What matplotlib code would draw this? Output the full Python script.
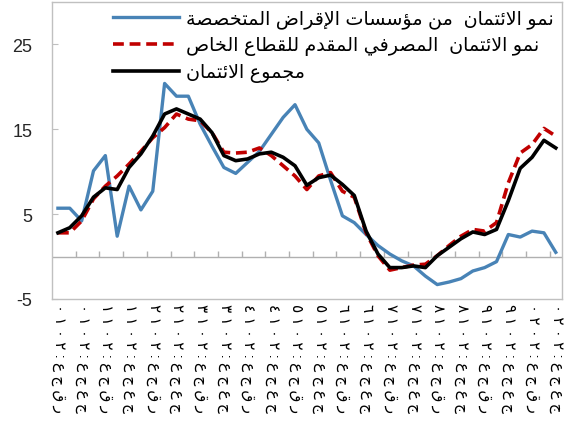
import matplotlib
matplotlib.use('Agg')
import matplotlib.pyplot as plt

plt.rcParams['font.family'] = ['Liberation Sans', 'DejaVu Sans']
plt.rcParams['axes.unicode_minus'] = False

# quarterly values
specialised = [5.7, 5.7, 4.2, 10.1, 11.9, 2.4, 8.3, 5.5, 7.7, 20.4,
               18.9, 18.9, 15.6, 13.0, 10.5, 9.8, 11.1, 12.4, 14.4, 16.4,
               17.9, 15.0, 13.4, 9.0, 4.8, 4.0, 2.6, 1.3, 0.3, -0.5,
               -1.1, -2.3, -3.3, -3.0, -2.6, -1.7, -1.3, -0.6, 2.6, 2.3,
               3.0, 2.8, 0.5]
bank_private = [2.8, 2.8, 4.2, 6.8, 8.3, 9.5, 10.9, 12.4, 14.0, 15.2,
                16.8, 16.2, 16.0, 14.6, 12.3, 12.2, 12.3, 12.8, 11.9, 10.7,
                9.5, 7.9, 9.5, 9.9, 7.7, 7.0, 2.8, 0.1, -1.6, -1.3,
                -1.0, -0.9, 0.1, 1.3, 2.4, 3.2, 3.0, 4.0, 8.7, 12.2,
                13.2, 15.1, 14.2]
total_credit = [2.8, 3.4, 4.8, 7.0, 8.1, 7.9, 10.5, 12.1, 14.2, 16.8,
                17.4, 16.8, 16.2, 14.6, 11.9, 11.3, 11.5, 12.1, 12.3, 11.7,
                10.7, 8.4, 9.3, 9.6, 8.5, 7.2, 3.0, 0.3, -1.3, -1.3,
                -1.1, -1.3, 0.1, 1.1, 2.1, 2.9, 2.6, 3.2, 6.6, 10.4,
                11.7, 13.7, 12.8]

series_names = ['نمو الائتمان  من مؤسسات الإقراض المتخصصة',
                'نمو الائتمان  المصرفي المقدم للقطاع الخاص',
                'مجموع الائتمان']

years = ['٢٠١٠', '٢٠١١', '٢٠١٢', '٢٠١٣', '٢٠١٤', '٢٠١٥',
         '٢٠١٦', '٢٠١٧', '٢٠١٨', '٢٠١٩', '٢٠٢٠']
periods = ['عجقر', 'عجعج']

# simple arabic shaping (matplotlib draws glyphs left to right, unjoined)
FORMS = {'ا': (0xFE8D, False), 'إ': (0xFE87, False), 'أ': (0xFE83, False),
         'ؤ': (0xFE85, False), 'ئ': (0xFE89, True), 'ب': (0xFE8F, True),
         'ة': (0xFE93, False), 'ت': (0xFE95, True), 'ج': (0xFE9D, True),
         'خ': (0xFEA5, True), 'د': (0xFEA9, False), 'ر': (0xFEAD, False),
         'س': (0xFEB1, True), 'ص': (0xFEB9, True), 'ض': (0xFEBD, True),
         'ط': (0xFEC1, True), 'ع': (0xFEC9, True), 'ف': (0xFED1, True),
         'ق': (0xFED5, True), 'ل': (0xFEDD, True), 'م': (0xFEE1, True),
         'ن': (0xFEE5, True), 'و': (0xFEED, False), 'ي': (0xFEF1, True)}
LAM_ALEF = {'ا': 0xFEFB, 'إ': 0xFEF9, 'أ': 0xFEF7}


def shape(text):
    res = []
    prev_joins = False
    i = 0
    while i < len(text):
        c = text[i]
        nxt = text[i + 1] if i + 1 < len(text) else ''
        if c == 'ل' and nxt in LAM_ALEF:
            res.append(chr(LAM_ALEF[nxt] + (1 if prev_joins else 0)))
            prev_joins = False
            i += 2
            continue
        if c not in FORMS:
            res.append(c)
            prev_joins = False
            i += 1
            continue
        base, dual = FORMS[c]
        next_joins = dual and nxt in FORMS
        if prev_joins and next_joins:
            res.append(chr(base + 3))
        elif prev_joins:
            res.append(chr(base + 1))
        elif next_joins:
            res.append(chr(base + 2))
        else:
            res.append(chr(base))
        prev_joins = dual
        i += 1
    return ''.join(reversed(res))


x = list(range(len(total_credit)))
labels = []
for k in range(len(years) * 2):
    txt = years[k // 2][::-1] + ':' + periods[k % 2]
    labels.append(' '.join(txt))

fig = plt.figure(figsize=(5.73, 4.35), dpi=100)
ax = fig.add_axes([52 / 573, 135 / 435, 509.7 / 573, 297 / 435])

ax.plot(x, specialised, color='#4883B6', linewidth=2.4, label=shape(series_names[0]))
ax.plot(x, bank_private, color='#C00000', linewidth=2.6, linestyle=(0, (3.0, 1.6)),
        label=shape(series_names[1]))
ax.plot(x, total_credit, color='black', linewidth=2.6, label=shape(series_names[2]))

ax.set_xlim(-0.5, len(x) - 0.5)
ax.set_ylim(-5, 30)
ax.set_yticks([-5, 5, 15, 25])
ax.tick_params(axis='y', direction='in', length=4.5, color='#BFBFBF',
               labelsize=13, pad=14, labelcolor='#262626')

ax.set_xticks(x[::2])
ax.set_xticklabels(labels, rotation=270, fontsize=11)
ax.tick_params(axis='x', length=0, pad=3)

# zero line with category ticks
ax.axhline(0, color='#B0B0B0', linewidth=1.0, zorder=1)
ax.vlines([v + 1.5 for v in x[:-2:2]], 0, 0.7, color='#B0B0B0', linewidth=1.0, zorder=1)

for s in ax.spines.values():
    s.set_color('#C0C0C0')
    s.set_linewidth(1.0)

leg = ax.legend(loc='upper right', frameon=False, fontsize=13.8, handlelength=3.4,
                labelspacing=0.42, borderaxespad=0.0, handletextpad=0.4)

fig.savefig('out.png', dpi=100)
